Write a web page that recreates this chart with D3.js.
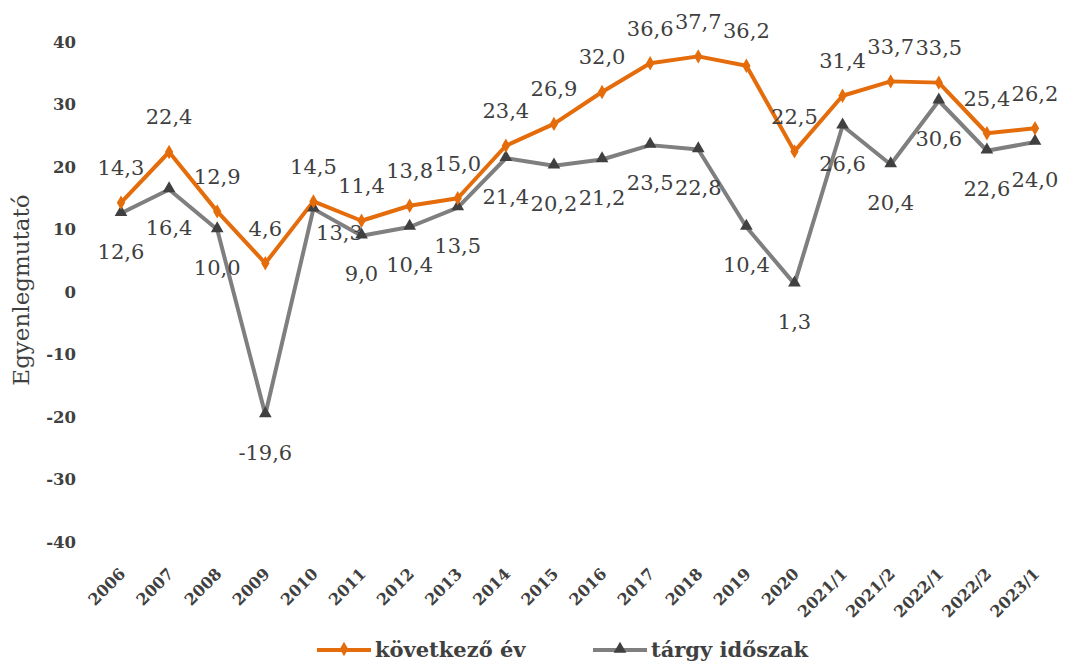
<!DOCTYPE html>
<html>
<head>
<meta charset="utf-8">
<script src="https://cdn.jsdelivr.net/npm/d3@7"></script>
<style>
  html, body { margin: 0; padding: 0; background: #fff; }
  svg { display: block; }
</style>
</head>
<body>
<svg id="chart" width="1066" height="668"></svg>
<script>
const categories = ["2006","2007","2008","2009","2010","2011","2012","2013","2014","2015","2016","2017","2018","2019","2020","2021/1","2021/2","2022/1","2022/2","2023/1"];
const kovetkezoEv = [14.3,22.4,12.9,4.6,14.5,11.4,13.8,15.0,23.4,26.9,32.0,36.6,37.7,36.2,22.5,31.4,33.7,33.5,25.4,26.2];
const targyIdoszak = [12.6,16.4,10.0,-19.6,13.3,9.0,10.4,13.5,21.4,20.2,21.2,23.5,22.8,10.4,1.3,26.6,20.4,30.6,22.6,24.0];
const yTicks = [-40,-30,-20,-10,0,10,20,30,40];
const seriesNames = ["következő év","tárgy időszak"];
const yTitle = "Egyenlegmutató";

const ORANGE = "#E46C0A";
const GREY = "#7F7F7F";
const DARK = "#404040";
const TEXT = "#404040";

const locale = d3.formatLocale({ decimal: ",", thousands: " ", grouping: [3], currency: ["", ""], minus: "-" });
const fmt = locale.format(".1f");
const fmtTick = locale.format("d");

const svg = d3.select("#chart");
const x = d3.scalePoint().domain(categories).range([121, 1035]);
const y = d3.scaleLinear().domain([-40, 40]).range([542, 42]);

// Y axis
const yAxis = svg.append("g")
  .attr("transform", "translate(76,0)")
  .call(d3.axisLeft(y).tickValues(yTicks).tickSize(0).tickPadding(0).tickFormat(fmtTick));
yAxis.select(".domain").remove();
yAxis.selectAll("text")
  .attr("font-family", "'DejaVu Serif', serif")
  .attr("font-size", 16.5)
  .attr("font-weight", "bold")
  .attr("fill", TEXT);

// X axis
const xAxis = svg.append("g")
  .attr("transform", "translate(0,571)")
  .call(d3.axisBottom(x).tickSize(0));
xAxis.select(".domain").remove();
xAxis.selectAll("text")
  .attr("x", 0).attr("y", 0).attr("dy", "0.35em")
  .attr("text-anchor", "end")
  .attr("transform", "translate(1,0) rotate(-45)")
  .attr("font-family", "'DejaVu Serif', serif")
  .attr("font-size", 16)
  .attr("font-weight", "bold")
  .attr("fill", TEXT);

// Y title
svg.append("text")
  .attr("transform", "translate(29,290) rotate(-90)")
  .attr("text-anchor", "middle")
  .attr("font-family", "'DejaVu Serif', serif")
  .attr("font-size", 23)
  .attr("fill", TEXT)
  .text(yTitle);

const line = d3.line().x((d, i) => x(categories[i])).y(d => y(d));

// grey series
svg.append("path").datum(targyIdoszak)
  .attr("d", line).attr("fill", "none")
  .attr("stroke", GREY).attr("stroke-width", 4).attr("stroke-linejoin", "round");
// orange series
svg.append("path").datum(kovetkezoEv)
  .attr("d", line).attr("fill", "none")
  .attr("stroke", ORANGE).attr("stroke-width", 4).attr("stroke-linejoin", "round");

const tri = d3.symbol().type(d3.symbolTriangle).size(70);
const dia = d3.symbol().type(d3.symbolDiamond).size(60);

svg.append("g").selectAll("path").data(targyIdoszak).join("path")
  .attr("d", tri)
  .attr("transform", (d, i) => `translate(${x(categories[i])},${y(d) - 1})`)
  .attr("fill", DARK);

svg.append("g").selectAll("path").data(kovetkezoEv).join("path")
  .attr("d", dia)
  .attr("transform", (d, i) => `translate(${x(categories[i])},${y(d)})`)
  .attr("fill", ORANGE);

// labels
const labelFont = { family: "'DejaVu Serif', serif", size: 21 };
svg.append("g").selectAll("text").data(kovetkezoEv).join("text")
  .attr("x", (d, i) => x(categories[i]))
  .attr("y", d => y(d) - 35)
  .attr("dy", "0.35em")
  .attr("text-anchor", "middle")
  .attr("font-family", labelFont.family)
  .attr("font-size", labelFont.size)
  .attr("fill", TEXT)
  .text(fmt);

svg.append("g").selectAll("text").data(targyIdoszak).join("text")
  .attr("x", (d, i) => x(categories[i]) + (categories[i] === "2010" ? 26 : 0))
  .attr("y", (d, i) => y(d) + (categories[i] === "2010" ? 24 : 38))
  .attr("dy", "0.35em")
  .attr("text-anchor", "middle")
  .attr("font-family", labelFont.family)
  .attr("font-size", labelFont.size)
  .attr("fill", TEXT)
  .text(fmt);

// Legend
const legend = [
  { name: seriesNames[0], color: ORANGE, marker: dia, mcolor: ORANGE, x0: 317 },
  { name: seriesNames[1], color: GREY, marker: tri, mcolor: DARK, x0: 593 }
];
const lg = svg.append("g");
legend.forEach(l => {
  lg.append("line").attr("x1", l.x0).attr("x2", l.x0 + 54).attr("y1", 650).attr("y2", 650)
    .attr("stroke", l.color).attr("stroke-width", 4);
  lg.append("path").attr("d", l.marker)
    .attr("transform", `translate(${l.x0 + 27},${649})`).attr("fill", l.mcolor);
  lg.append("text").attr("x", l.x0 + 58).attr("y", 650).attr("dy", "0.35em")
    .attr("font-family", "'DejaVu Serif', serif").attr("font-size", 21).attr("font-weight", "bold")
    .attr("fill", TEXT).text(l.name);
});
</script>
</body>
</html>
